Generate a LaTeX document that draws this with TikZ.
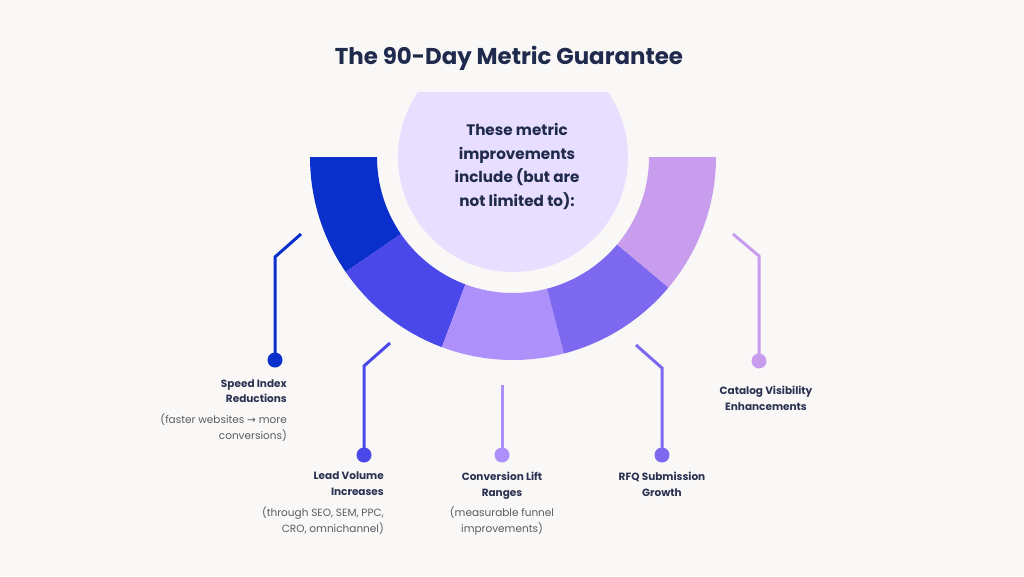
\documentclass[tikz,border=0pt]{standalone}
\usepackage{fontspec}
\setmainfont{Poppins}
\newfontfamily\symf{DejaVu Sans}
\definecolor{bg}{HTML}{F9F8F7}
\definecolor{titlec}{HTML}{1F2A4D}
\definecolor{labc}{HTML}{2B3150}
\definecolor{subc}{HTML}{5A5B63}
\definecolor{cA}{HTML}{0A2FCB}
\definecolor{cB}{HTML}{4B48EA}
\definecolor{cC}{HTML}{AE90FB}
\definecolor{cD}{HTML}{7D68F0}
\definecolor{cE}{HTML}{C99DEE}
\definecolor{hub}{HTML}{E8DEFF}
\tikzset{
  conn/.style={line width=3pt},
  dotnode/.style={circle,fill=#1,minimum size=15pt,inner sep=0pt},
  lab/.style={text=labc,font=\bfseries\fontsize{10.5}{15.5}\selectfont,inner sep=0pt},
  sub/.style={text=subc,font=\fontsize{10.5}{16}\selectfont,inner sep=0pt},
}
\newcommand{\seg}[3]{%
  \fill[#3] plot[domain=#1:#2,samples=40] ({513+203*cos(\x)},{157+203*sin(\x)})
    -- plot[domain=#2:#1,samples=40] ({513+136*cos(\x)},{157+136*sin(\x)}) -- cycle;}
\begin{document}
\begin{tikzpicture}[x=1pt,y=-1pt]
\useasboundingbox (0,0) rectangle (1024,576);
\fill[bg] (0,0) rectangle (1024,576);
% title
\node[text=titlec,font=\bfseries\fontsize{22.9}{27}\selectfont] (title) at (509,58) {The 90-Day Metric Guarantee};
% ring
\seg{180}{145.5}{cA}
\seg{145.5}{110.5}{cB}
\seg{110.5}{75.5}{cC}
\seg{75.5}{40}{cD}
\seg{40}{0}{cE}
% hub
\begin{scope}
\clip (0,92) rectangle (1024,576);
\fill[hub] (513,157) circle[radius=115pt];
\end{scope}
\node[text=titlec,font=\bfseries\fontsize{15.2}{23.5}\selectfont,align=center,anchor=north] (hubtext) at (517,120)
  {These metric\\improvements\\include (but are\\not limited to):};
% connectors
\coordinate (s1) at (301,234); \coordinate (b1) at (275,257);
\node[dotnode=cA] (d1) at (275,360) {};
\draw[conn,cA] (s1) -- (b1) -- (d1.center);
\coordinate (s2) at (390,343); \coordinate (b2) at (364,366);
\node[dotnode=cB] (d2) at (364,455) {};
\draw[conn,cB] (s2) -- (b2) -- (d2.center);
\coordinate (s3) at (502,385);
\node[dotnode=cC] (d3) at (502,455) {};
\draw[conn,cC] (s3) -- (d3.center);
\coordinate (s4) at (636,345); \coordinate (b4) at (662,368);
\node[dotnode=cD] (d4) at (662,455) {};
\draw[conn,cD] (s4) -- (b4) -- (d4.center);
\coordinate (s5) at (733,234); \coordinate (b5) at (759,256);
\node[dotnode=cE] (d5) at (759,361) {};
\draw[conn,cE] (s5) -- (b5) -- (d5.center);
% labels
\node[lab,align=right,anchor=north east] (l1) at (287,379.5) {Speed Index\\Reductions};
\node[sub,align=right,anchor=north east] (t1) at (287,413) {(faster websites {\symf→} more\\conversions)};
\node[lab,align=right,anchor=north east] (l2) at (384,472) {Lead Volume\\Increases};
\node[sub,align=right,anchor=north east] (t2) at (384,506) {(through SEO, SEM, PPC,\\CRO, omnichannel)};
\node[lab,align=center,anchor=north] (l3) at (502,472) {Conversion Lift\\Ranges};
\node[sub,align=center,anchor=north] (t3) at (502,506) {(measurable funnel\\improvements)};
\node[lab,align=center,anchor=north] (l4) at (662,472) {RFQ Submission\\Growth};
\node[lab,align=center,anchor=north] (l5) at (766,386) {Catalog Visibility\\Enhancements};
\end{tikzpicture}
\end{document}
